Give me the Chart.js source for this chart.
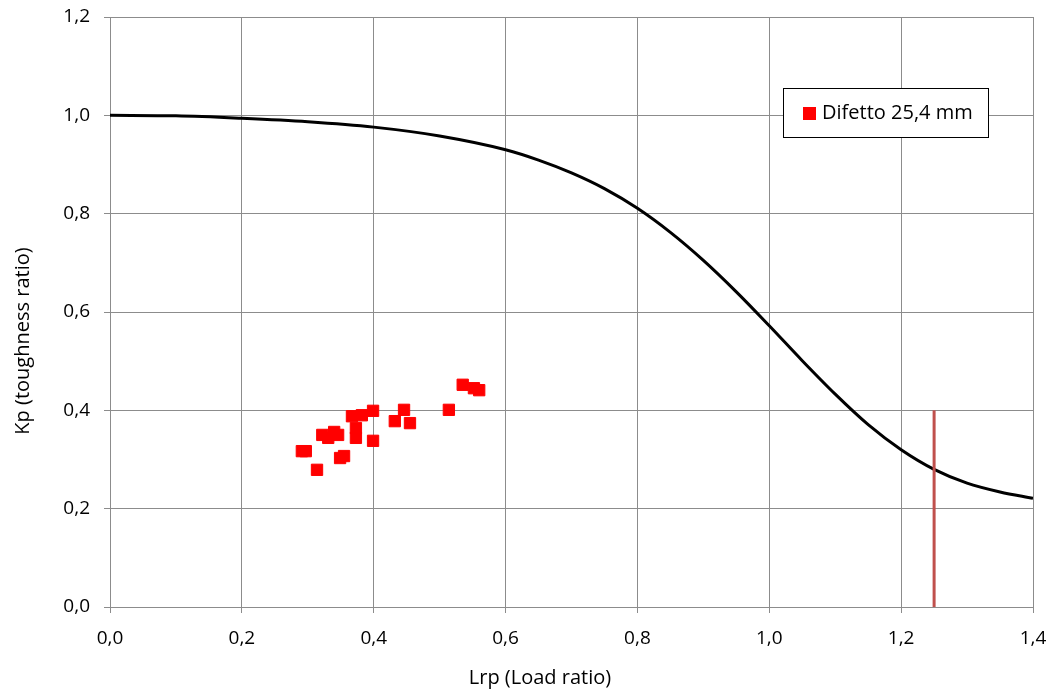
<!DOCTYPE html>
<html>
<head>
<meta charset="utf-8">
<script src="https://cdn.jsdelivr.net/npm/chart.js@4"></script>
<style>
html, body { margin: 0; padding: 0; background: #fff; }
#wrap { width: 1052px; height: 695px; }
</style>
</head>
<body>
<div id="wrap"><canvas id="myChart"></canvas></div>
<script>
'use strict';

// curve (Lrp, Kp)
const curveLr = [0.0, 0.1, 0.2, 0.3, 0.4, 0.5, 0.6, 0.65, 0.7, 0.75, 0.8, 0.85, 0.9, 0.95,
    1.0, 1.05, 1.1, 1.15, 1.2, 1.25, 1.3, 1.35, 1.4];
const curveKr = [1.000, 0.999, 0.994, 0.987, 0.976, 0.958, 0.930, 0.909, 0.883, 0.851, 0.811, 0.762, 0.705, 0.641,
    0.572, 0.501, 0.433, 0.371, 0.320, 0.280, 0.252, 0.234, 0.221];

// defect points
const defectLr = [0.291, 0.297, 0.314, 0.322, 0.331, 0.340, 0.346, 0.349, 0.355, 0.367, 0.373,
    0.373, 0.382, 0.399, 0.399, 0.432, 0.446, 0.455, 0.514, 0.535, 0.552, 0.560];
const defectKr = [0.317, 0.317, 0.279, 0.350, 0.344, 0.356, 0.350, 0.303, 0.307, 0.388, 0.364,
    0.344, 0.390, 0.399, 0.338, 0.378, 0.401, 0.374, 0.401, 0.452, 0.445, 0.441];

// cut-off line
const limitLr = [1.25, 1.25];
const limitKr = [0, 0.4];

const xTickLabels = ['0,0', '0,2', '0,4', '0,6', '0,8', '1,0', '1,2', '1,4'];
const yTickLabels = ['0,0', '0,2', '0,4', '0,6', '0,8', '1,0', '1,2'];

const seriesName = 'Difetto 25,4 mm';
const xTitle = 'Lrp (Load ratio)';
const yTitle = 'Kp (toughness ratio)';

const FONT = "'Open Sans', 'Noto Sans', sans-serif";
const GRID = '#8c8c8c';

const toPoints = (xs, ys) => xs.map((x, i) => ({ x: x, y: ys[i] }));

// legend box inside the plot + axis titles where Excel puts them
const boxLegend = {
    id: 'boxLegend',
    afterDraw(chart) {
        const c = chart.ctx;
        const left = 783, top = 88, w = 205, h = 49;
        c.save();
        c.fillStyle = '#ffffff';
        c.fillRect(left, top, w, h);
        c.strokeStyle = '#000000';
        c.lineWidth = 1;
        c.strokeRect(left + 0.5, top + 0.5, w, h);
        c.fillStyle = '#ff0000';
        c.fillRect(left + 20, top + 19, 13, 13);
        c.fillStyle = '#000000';
        c.font = '20px ' + FONT;
        c.textBaseline = 'middle';
        c.fillText(seriesName, left + 39, top + 25);

        // axis titles
        c.textAlign = 'center';
        c.fillText(xTitle, 540, 678);
        c.translate(23, 341);
        c.rotate(-Math.PI / 2);
        c.fillText(yTitle, 0, 0);
        c.restore();
    }
};

const ctx = document.getElementById('myChart').getContext('2d');

const chartObj = {
    type: 'scatter',
    data: {
        datasets: [{
            label: seriesName,
            data: toPoints(defectLr, defectKr),
            backgroundColor: '#ff0000',
            borderColor: '#ff0000',
            borderWidth: 1,
            pointStyle: 'rect',
            pointRadius: 8,
            pointHoverRadius: 8,
            order: 2
        }, {
            label: 'curve',
            data: toPoints(curveLr, curveKr),
            showLine: true,
            borderColor: '#000000',
            borderWidth: 3,
            pointRadius: 0,
            cubicInterpolationMode: 'monotone',
            order: 3
        }, {
            label: 'limit',
            data: toPoints(limitLr, limitKr),
            showLine: true,
            borderColor: '#c0504d',
            borderWidth: 3,
            pointRadius: 0,
            order: 1
        }]
    },
    options: {
        responsive: true,
        maintainAspectRatio: false,
        animation: false,
        layout: { padding: { top: 17, right: 19, bottom: 0, left: 8 } },
        plugins: {
            legend: { display: false },
            tooltip: { enabled: false }
        },
        scales: {
            x: {
                type: 'linear',
                min: 0,
                max: 1.4,
                afterFit(axis) {
                    axis.height = 88;
                    axis.paddingLeft = 0;
                    axis.paddingRight = 0;
                },
                ticks: {
                    stepSize: 0.2,
                    padding: 14,
                    color: '#000000',
                    font: { family: FONT, size: 19 },
                    callback: (v, i) => xTickLabels[i]
                },
                grid: { color: GRID, tickLength: 6, lineWidth: 1 },
                border: { color: GRID }
            },
            y: {
                type: 'linear',
                min: 0,
                max: 1.2,
                afterFit(axis) {
                    axis.width = 102;
                    axis.paddingTop = 0;
                    axis.paddingBottom = 0;
                },
                ticks: {
                    stepSize: 0.2,
                    padding: 14,
                    color: '#000000',
                    font: { family: FONT, size: 19 },
                    callback: (v, i) => yTickLabels[i]
                },
                grid: { color: GRID, tickLength: 6, lineWidth: 1 },
                border: { color: GRID }
            }
        }
    },
    plugins: [boxLegend]
};

const myChart = new Chart(ctx, chartObj);
</script>
</body>
</html>
